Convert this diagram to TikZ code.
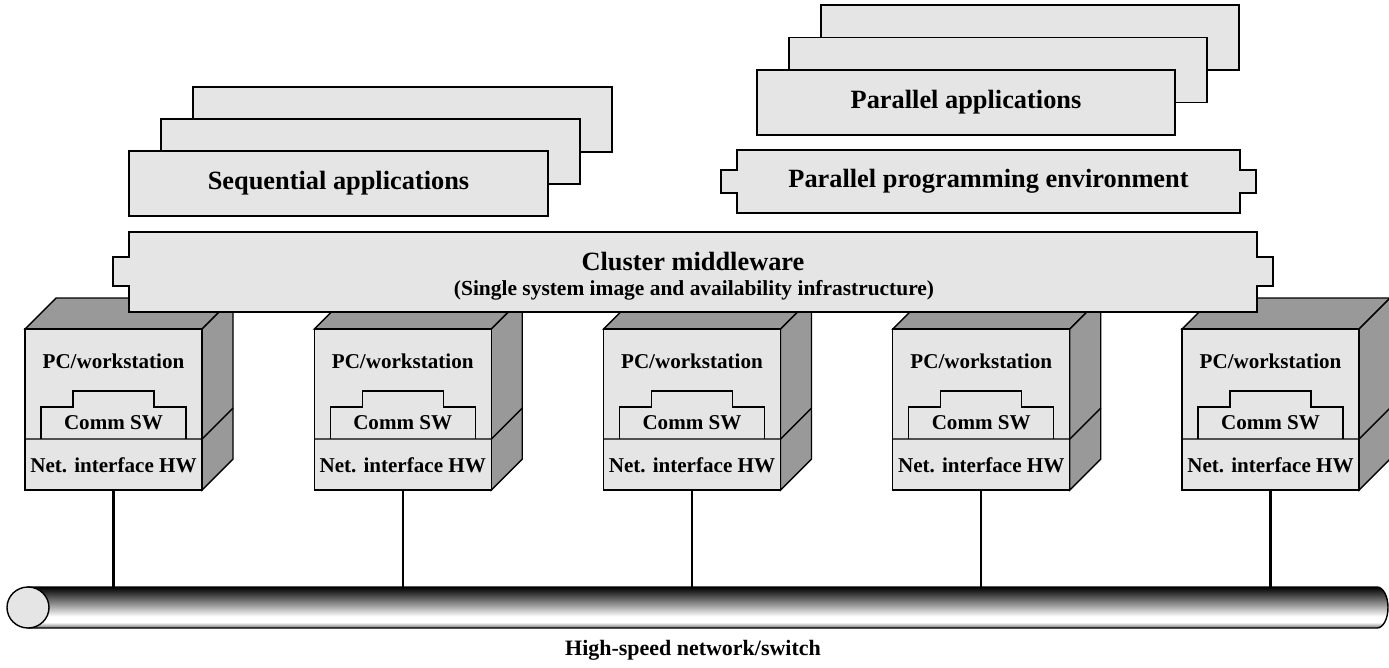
\documentclass[tikz,border=0pt]{standalone}
\usepackage{fontspec}
\setmainfont{Liberation Serif}
\newcommand{\testogrande}{\fontsize{15}{18}\selectfont\bfseries}
\newcommand{\testopiccolo}{\fontsize{12}{14}\selectfont\bfseries}
\newcommand{\testorete}{\fontsize{12.5}{15}\selectfont\bfseries}
\pgfdeclareverticalshading{tubo}{100bp}{color(0bp)=(black!55); color(25bp)=(black!55); color(32bp)=(white); color(39bp)=(white); color(55bp)=(black!45); color(75bp)=(black); color(100bp)=(black)}

\begin{document}
\begin{tikzpicture}[x=0.02cm, y=-0.02cm,
    chiaro/.style={fill=black!10, draw=black, line width=0.8pt},
    scuro/.style={fill=black!40, draw=black, line width=0.8pt},
    etichetta/.style={font=\testogrande, inner sep=0pt},
    etichettina/.style={font=\testopiccolo, inner sep=0pt}]
    \useasboundingbox (0,0) rectangle (1389,667);
    \coordinate (bus) at (0,587);

    % Nodi del cluster
    \foreach \i in {0,...,4} {
        \begin{scope}[shift={(\i*289.25,0)}]
            \draw[scuro] (25,329) -- (56,298) -- (233,298) -- (202,329) -- cycle;
            \draw[scuro] (202,329) -- (233,298) -- (233,459) -- (202,490) -- cycle;
            \draw[chiaro] (25,329) rectangle (202,490);
            \draw[line width=0.8pt] (25,439) -- (202,439) -- (233,408);
            % Software di comunicazione
            \draw[line width=0.6pt] (41,439) -- (41,407) -- (73,407) -- (73,391) -- (154,391) -- (154,407) -- (186,407) -- (186,439);
            \node[etichettina] (pc\i) at (113.5,361) {PC/workstation};
            \node[etichettina] (sw\i) at (113.5,423) {Comm SW};
            \node[etichettina] (net\i) at (113.5,465) {Net. interface HW};
            \coordinate (piede\i) at (113.5,490);
            \draw[line width=1.3pt] (piede\i) -- (piede\i |- bus);
        \end{scope}
    }

    % Middleware
    \draw[chiaro] (129,232) -- (1257,232) -- (1257,257) -- (1273,257) -- (1273,286) -- (1257,286) -- (1257,312)
        -- (129,312) -- (129,286) -- (113,286) -- (113,257) -- (129,257) -- cycle;
    \node[etichetta] (mw) at (693,262) {Cluster middleware};
    \node[etichettina, font=\fontsize{12.2}{14}\selectfont\bfseries] (ssi) at (694,290) {(Single system image and availability infrastructure)};

    % Applicazioni sequenziali
    \foreach \k in {2,1,0}
        \draw[chiaro] (129+\k*32,151-\k*32) rectangle ++(419,65);
    \node[etichetta] (seq) at (338.5,183.5) {Sequential applications};

    % Applicazioni parallele
    \foreach \k in {2,1,0}
        \draw[chiaro] (757+\k*32,70-\k*32.5) rectangle ++(418,65);
    \node[etichetta] (par) at (966,102.5) {Parallel applications};

    % Ambiente di programmazione parallela
    \draw[chiaro] (737,150) -- (1240,150) -- (1240,170) -- (1256,170) -- (1256,193) -- (1240,193) -- (1240,213)
        -- (737,213) -- (737,193) -- (721,193) -- (721,170) -- (737,170) -- cycle;
    \node[etichetta] (ppe) at (988.5,181.5) {Parallel programming environment};

    % Rete ad alta velocita
    \shade[shading=tubo, draw=black, line width=0.8pt] (28,587) -- (1377,587)
        arc[start angle=-90, end angle=90, x radius=11, y radius=20.5] -- (28,628) -- cycle;
    \draw[fill=black!10, line width=0.8pt] (28,607.5) ellipse[x radius=21, y radius=20.5];
    \node[font=\testorete, inner sep=0pt] (rete) at (693,650) {High-speed network/switch};
\end{tikzpicture}
\end{document}
